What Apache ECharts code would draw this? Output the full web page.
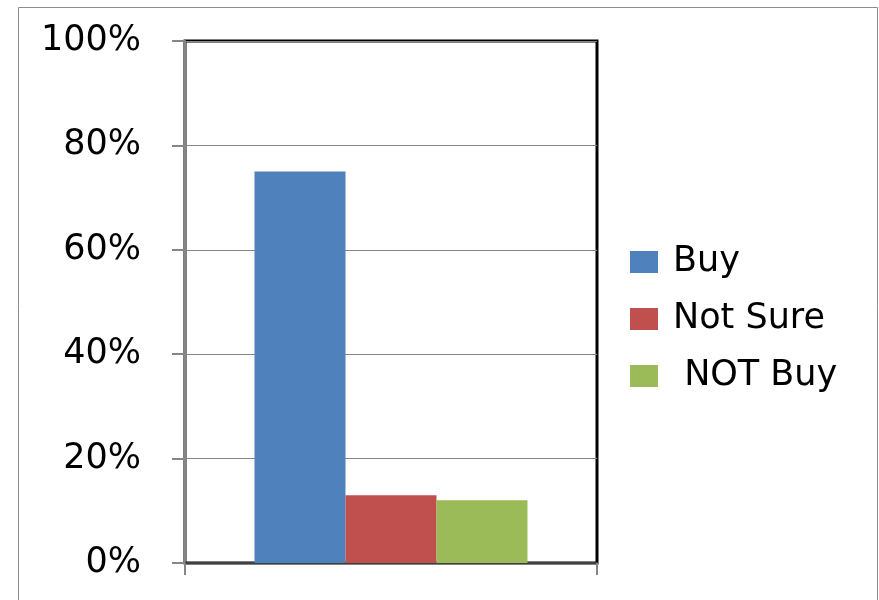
<!DOCTYPE html>
<html>
<head>
<meta charset="utf-8">
<script src="https://cdn.jsdelivr.net/npm/echarts@6/dist/echarts.min.js"></script>
<style>
  html, body { margin: 0; padding: 0; background: #fff; }
  #chart { width: 879px; height: 600px; }
</style>
</head>
<body>
<div id="chart"></div>
<script>
var categories = [''];
var seriesNames = ['Buy', 'Not Sure', ' NOT Buy'];
var buyValues = [0.75];
var notSureValues = [0.13];
var notBuyValues = [0.12];
var colors = ['#4F81BD', '#C0504D', '#9BBB59'];

var chart = echarts.init(document.getElementById('chart'));
var fontFam = '"DejaVu Sans", sans-serif';

option = {
    backgroundColor: '#fff',
    animation: false,
    color: colors,
    graphic: [{
        type: 'rect',
        shape: { x: 18.5, y: 7.5, width: 859, height: 700 },
        style: { fill: 'none', stroke: '#8c8c8c', lineWidth: 1 },
        silent: true
    }],
    grid: {
        left: 185,
        right: 282,
        top: 41,
        bottom: 37,
        show: true,
        borderColor: '#000',
        borderWidth: 3,
        backgroundColor: 'transparent'
    },
    legend: {
        orient: 'vertical',
        left: 630,
        top: 244,
        padding: 0,
        itemWidth: 28,
        itemHeight: 22,
        itemGap: 21,
        icon: 'rect',
        data: seriesNames,
        textStyle: {
            fontFamily: fontFam,
            fontSize: 35,
            lineHeight: 36,
            color: '#000',
            padding: [0, 0, 0, 10]
        }
    },
    xAxis: {
        type: 'category',
        data: categories,
        axisLine: { show: true, lineStyle: { color: '#404040', width: 2 } },
        axisTick: { show: true, length: 12, lineStyle: { color: '#868686', width: 2 } },
        axisLabel: { show: false }
    },
    yAxis: {
        type: 'value',
        min: 0,
        max: 1,
        interval: 0.2,
        axisLine: { show: true, lineStyle: { color: '#868686', width: 2 } },
        axisTick: { show: true, length: 13, lineStyle: { color: '#868686', width: 2 } },
        splitLine: { show: true, lineStyle: { color: '#868686', width: 1 } },
        axisLabel: {
            margin: 44,
            fontFamily: fontFam,
            fontSize: 35,
            color: '#000',
            formatter: function (v) { return Math.round(v * 100) + '%'; }
        }
    },
    series: [{
        name: seriesNames[0],
        type: 'bar',
        data: buyValues,
        barWidth: 91,
        barGap: '0%'
    }, {
        name: seriesNames[1],
        type: 'bar',
        data: notSureValues,
        barWidth: 91,
        barGap: '0%'
    }, {
        name: seriesNames[2],
        type: 'bar',
        data: notBuyValues,
        barWidth: 91,
        barGap: '0%'
    }]
};
chart.setOption(option);
</script>
</body>
</html>
